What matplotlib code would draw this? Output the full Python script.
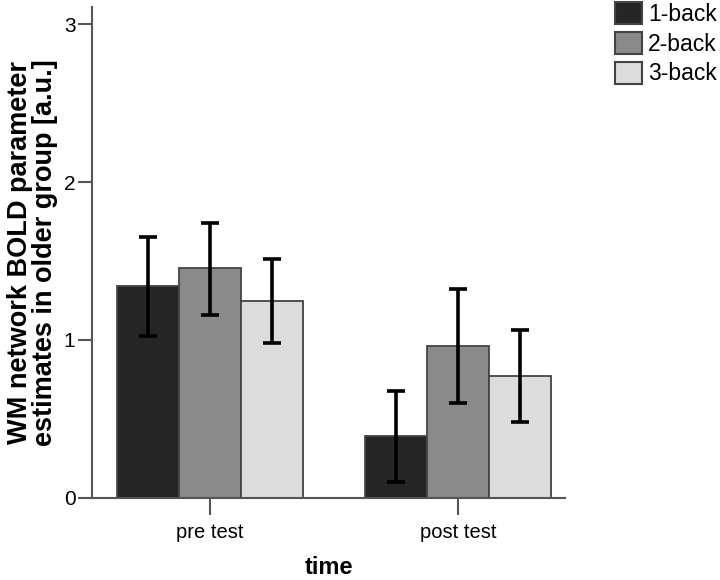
import numpy as np
import matplotlib
matplotlib.use("Agg")
import matplotlib.pyplot as plt

plt.rcParams["font.family"] = ["Liberation Sans", "DejaVu Sans"]

# data
times = ["pre test", "post test"]
conditions = ["1-back", "2-back", "3-back"]
means = {
    "1-back": [1.34, 0.39],
    "2-back": [1.455, 0.96],
    "3-back": [1.245, 0.768],
}
err_low = {
    "1-back": [1.025, 0.10],
    "2-back": [1.16, 0.60],
    "3-back": [0.977, 0.482],
}
err_high = {
    "1-back": [1.652, 0.677],
    "2-back": [1.743, 1.323],
    "3-back": [1.515, 1.062],
}
colors = {"1-back": "#262626", "2-back": "#8a8a8a", "3-back": "#dcdcdc"}


def main():
    fig = plt.figure(figsize=(7.2, 5.8), dpi=100)
    ax = fig.add_axes([0.128, 0.142, 0.657, 0.846])

    x = np.arange(len(times))
    width = 0.25

    for i, cond in enumerate(conditions):
        pos = x + (i - 1) * width
        m = np.array(means[cond])
        lo = m - np.array(err_low[cond])
        hi = np.array(err_high[cond]) - m
        ax.bar(pos, m, width, color=colors[cond], edgecolor="#444444",
               linewidth=1.3, label=cond, zorder=2)
        ax.errorbar(pos, m, yerr=[lo, hi], fmt="none", ecolor="black",
                    elinewidth=2.6, capsize=6.5, capthick=2.6, zorder=3)

    ax.set_xlim(-0.476, 1.431)
    ax.set_ylim(0, 3.11)
    ax.set_xticks(x)
    ax.set_xticklabels(times, fontsize=14.5)
    ax.set_yticks([0, 1, 2, 3])
    ax.set_yticklabels(["0", "1", "2", "3"], fontsize=15)

    ax.spines["top"].set_visible(False)
    ax.spines["right"].set_visible(False)
    for s in ["left", "bottom"]:
        ax.spines[s].set_color("#555555")
        ax.spines[s].set_linewidth(1.5)
    ax.tick_params(axis="y", length=10, width=1.5, color="#555555", pad=2)
    ax.tick_params(axis="x", length=12, width=1.5, color="#555555", pad=6)

    ax.set_xlabel("time", fontsize=17, fontweight="bold", labelpad=10)
    ax.set_ylabel("WM network BOLD parameter\nestimates in older group [a.u.]",
                  fontsize=19.5, fontweight="bold", labelpad=4, linespacing=0.95)

    handles, labels = ax.get_legend_handles_labels()
    leg = fig.legend(handles, labels, loc="upper left",
                     bbox_to_anchor=(0.854, 0.997), frameon=False,
                     fontsize=16.5, handlelength=1.2, handleheight=1.12,
                     handletextpad=0.26, labelspacing=0.26, borderpad=0,
                     borderaxespad=0)
    for h in leg.legend_handles:
        h.set_edgecolor("#444444")
        h.set_linewidth(1.5)

    fig.savefig("out.png", dpi=100)


if __name__ == "__main__":
    main()
